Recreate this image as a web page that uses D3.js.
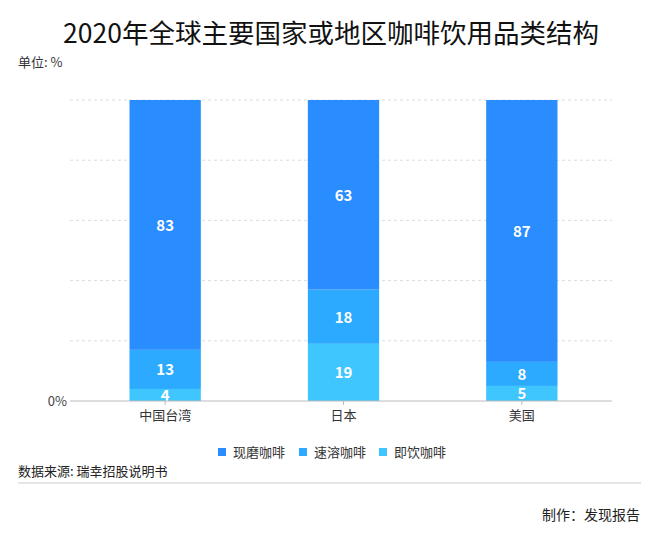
<!DOCTYPE html>
<html><head><meta charset="utf-8">
<script src="https://cdn.jsdelivr.net/npm/d3@7/dist/d3.min.js"></script>
<style>
body{margin:0;background:#fff;}
text{font-family:"Noto Sans CJK SC","Noto Sans",sans-serif;}
</style></head>
<body><svg id="c" width="660" height="543"></svg>
<script>
const categories = ["中国台湾", "日本", "美国"];
const seriesNames = ["现磨咖啡", "速溶咖啡", "即饮咖啡"];
const freshGround = [83, 63, 87];
const instant = [13, 18, 8];
const readyToDrink = [4, 19, 5];
const yTicks = [0, 20, 40, 60, 80, 100];
const colors = ["#2A8DFF", "#2BAAFF", "#40C6FF"];

const svg = d3.select("#c");
const x = d3.scaleBand().domain(categories).range([76, 611]).paddingInner(0.6).paddingOuter(0.3);
const y = d3.scaleLinear().domain([0, 100]).range([401, 100]);

// title
svg.append("text").attr("x", 331).attr("y", 43).attr("text-anchor", "middle")
  .attr("font-size", 26.5).attr("fill", "#111").text("2020年全球主要国家或地区咖啡饮用品类结构");
svg.append("text").attr("x", 18).attr("y", 67).attr("font-size", 13).attr("fill", "#333").text("单位: %");

// grid
svg.append("g").selectAll("line").data(yTicks.filter(d => d > 0)).join("line")
  .attr("x1", 70).attr("x2", 612).attr("y1", d => y(d)).attr("y2", d => y(d))
  .attr("stroke", "#ddd").attr("stroke-dasharray", "3,3");

// stacked data
const rows = categories.map((c, i) => ({cat: c, "即饮咖啡": readyToDrink[i], "速溶咖啡": instant[i], "现磨咖啡": freshGround[i]}));
const keys = ["即饮咖啡", "速溶咖啡", "现磨咖啡"];
const stack = d3.stack().keys(keys)(rows);
const colorOf = k => colors[seriesNames.indexOf(k)];

const g = svg.append("g");
stack.forEach(layer => {
  g.selectAll(null).data(layer).join("rect")
    .attr("x", d => x(d.data.cat)).attr("width", x.bandwidth())
    .attr("y", d => y(d[1])).attr("height", d => y(d[0]) - y(d[1]))
    .attr("fill", colorOf(layer.key));
  g.selectAll(null).data(layer).join("text")
    .attr("x", d => x(d.data.cat) + x.bandwidth() / 2)
    .attr("y", d => (y(d[0]) + y(d[1])) / 2 + 6)
    .attr("text-anchor", "middle").attr("font-size", 15).attr("font-weight", "bold")
    .attr("fill", "#fff").text(d => d[1] - d[0]);
});

// x axis
const xa = svg.append("g").attr("transform", "translate(0,401)");
xa.append("line").attr("x1", 70).attr("x2", 612).attr("stroke", "#bbb");
xa.selectAll("line.t").data(categories).join("line").attr("class", "t")
  .attr("x1", d => x(d) + x.bandwidth() / 2).attr("x2", d => x(d) + x.bandwidth() / 2)
  .attr("y1", 0).attr("y2", 4).attr("stroke", "#bbb");
xa.selectAll("text").data(categories).join("text")
  .attr("x", d => x(d) + x.bandwidth() / 2).attr("y", 19)
  .attr("text-anchor", "middle").attr("font-size", 13).attr("fill", "#333").text(d => d);

svg.append("text").attr("x", 67).attr("y", y(0) + 5).attr("text-anchor", "end")
  .attr("font-size", 13).attr("fill", "#444").text("0%");

// legend
const lgX = [218, 299, 379];
const lg = svg.append("g");
seriesNames.forEach((s, i) => {
  lg.append("rect").attr("x", lgX[i]).attr("y", 448).attr("width", 8).attr("height", 8).attr("fill", colors[i]);
  lg.append("text").attr("x", lgX[i] + 15).attr("y", 457).attr("font-size", 13).attr("fill", "#333").text(s);
});

svg.append("text").attr("x", 18).attr("y", 476).attr("font-size", 13).attr("fill", "#222").text("数据来源: 瑞幸招股说明书");
svg.append("line").attr("x1", 18).attr("x2", 641).attr("y1", 483).attr("y2", 483).attr("stroke", "#ddd").attr("stroke-width", 1.5);
svg.append("text").attr("x", 640).attr("y", 520).attr("text-anchor", "end").attr("font-size", 14).attr("fill", "#222").text("制作：发现报告");
</script></body></html>
